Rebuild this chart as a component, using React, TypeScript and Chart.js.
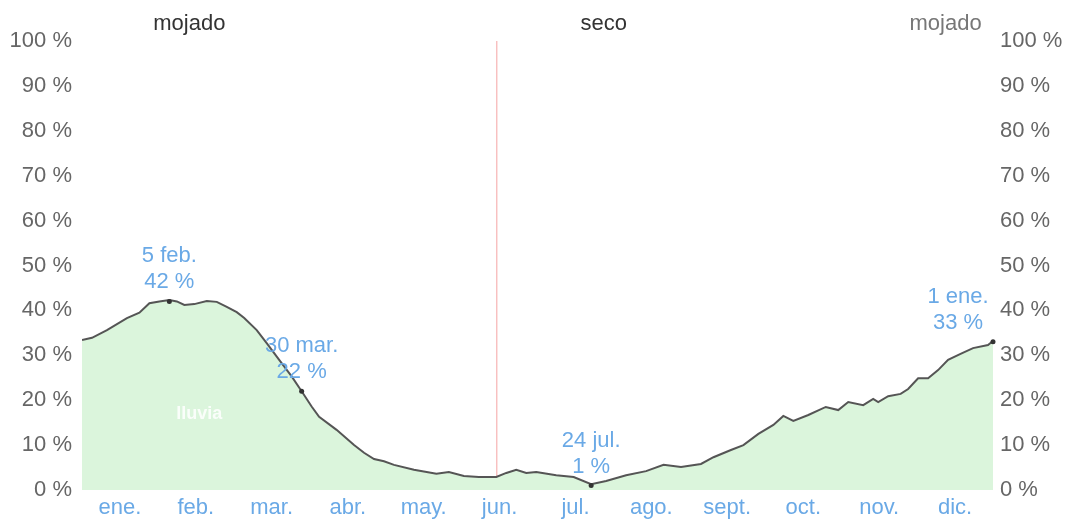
import React, { useEffect, useRef } from "react";
import { Chart, registerables } from "chart.js";

Chart.register(...registerables);

// day of year (0..365) and chance of rain (%)
const days = [0, 4, 10, 18, 23, 27, 31, 35, 38, 41, 45, 50, 54, 58, 62, 65, 70, 74, 79, 84, 88, 92, 95, 102, 109, 113, 117, 121, 125, 133, 142, 147, 153, 159, 166, 170, 174, 178, 182, 190, 197, 204, 210, 218, 226, 233, 240, 248, 253, 260, 265, 271, 277, 281, 285, 291, 298, 303, 307, 313, 317, 319, 323, 328, 331, 335, 339, 343, 347, 352, 357, 363, 365];
const values = [33.4, 33.9, 35.6, 38.3, 39.5, 41.6, 42.0, 42.3, 42.0, 41.2, 41.4, 42.1, 41.9, 40.8, 39.6, 38.3, 35.6, 32.7, 29, 25.3, 22, 18.6, 16.3, 13.4, 10, 8.3, 6.9, 6.4, 5.6, 4.5, 3.6, 4.0, 3.1, 2.9, 2.9, 3.8, 4.5, 3.8, 4.0, 3.3, 2.9, 1.3, 2.0, 3.3, 4.2, 5.6, 5.1, 5.8, 7.3, 8.9, 10, 12.5, 14.5, 16.5, 15.4, 16.7, 18.5, 17.8, 19.6, 18.9, 20.3, 19.6, 20.9, 21.4, 22.5, 24.9, 24.9, 26.7, 29, 30.3, 31.6, 32.3, 33.2];

const monthLabels = ["ene.", "feb.", "mar.", "abr.", "may.", "jun.", "jul.", "ago.", "sept.", "oct.", "nov.", "dic."];
const monthMidDays = [15.2, 45.6, 76.0, 106.5, 136.9, 167.3, 197.7, 228.1, 258.5, 289.0, 319.4, 349.8];
const yTicks = [0, 10, 20, 30, 40, 50, 60, 70, 80, 90, 100];

const annotDays = [35, 88, 204, 365];
const annotValues = [42, 22, 1, 33];
const annotDateLabels = ["5 feb.", "30 mar.", "24 jul.", "1 ene."];
const annotValueLabels = ["42 %", "22 %", "1 %", "33 %"];

const seasonLabels = ["mojado", "seco", "mojado"];
const seasonDays = [43, 209, 346];
const seasonColors = ["#333333", "#333333", "#777777"];
const dividerDay = 166;

const FONT = "Arial, 'Liberation Sans', sans-serif";

export default function App() {
  const ref = useRef<HTMLCanvasElement | null>(null);

  useEffect(() => {
    if (!ref.current) return;
    const overlay = {
      id: "overlay",
      beforeDatasetsDraw(chart: any) {
        const { ctx, chartArea, scales } = chart;
        const x = scales.x.getPixelForValue(dividerDay);
        ctx.save();
        ctx.strokeStyle = "#f5a3a3";
        ctx.lineWidth = 1;
        ctx.beginPath();
        ctx.moveTo(x + 0.5, chartArea.top);
        ctx.lineTo(x + 0.5, chartArea.bottom);
        ctx.stroke();
        ctx.restore();
      },
      afterDatasetsDraw(chart: any) {
        const { ctx, chartArea, scales } = chart;
        const xs = scales.x;
        const ys = scales.y;
        ctx.save();
        ctx.fillStyle = "rgba(255,255,255,0.85)";
        ctx.font = `bold 18px ${FONT}`;
        ctx.textAlign = "center";
        ctx.textBaseline = "middle";
        ctx.fillText("lluvia", xs.getPixelForValue(47), ys.getPixelForValue(17));
        ctx.font = `22px ${FONT}`;
        seasonLabels.forEach((t, i) => {
          ctx.fillStyle = seasonColors[i];
          ctx.fillText(t, xs.getPixelForValue(seasonDays[i]), chartArea.top - 17);
        });
        annotDays.forEach((d, i) => {
          const px = xs.getPixelForValue(d);
          const py = ys.getPixelForValue(annotValues[i]);
          ctx.fillStyle = "#333333";
          ctx.beginPath();
          ctx.arc(px, py, 2.5, 0, Math.PI * 2);
          ctx.fill();
          ctx.fillStyle = "#6aa9e6";
          ctx.font = `22px ${FONT}`;
          const tx = i === 3 ? px - 35 : px;
          ctx.fillText(annotDateLabels[i], tx, py - 45);
          ctx.fillText(annotValueLabels[i], tx, py - 19);
        });
        ctx.restore();
      },
    };

    const chart = new Chart(ref.current, {
      type: "line",
      data: {
        datasets: [
          {
            data: days.map((d, i) => ({ x: d, y: values[i] })),
            borderColor: "#555555",
            borderWidth: 2,
            backgroundColor: "#dbf5dc",
            fill: "origin",
            pointRadius: 0,
            tension: 0,
          },
        ],
      },
      options: {
        animation: false,
        responsive: false,
        maintainAspectRatio: false,
        layout: { padding: { top: 41, left: 0, right: 0, bottom: 0 } },
        plugins: { legend: { display: false }, tooltip: { enabled: false } },
        scales: {
          x: {
            type: "linear",
            min: 0,
            max: 365,
            grid: { display: false, drawTicks: false },
            border: { display: false },
            afterBuildTicks: (scale: any) => {
              scale.ticks = monthMidDays.map((v) => ({ value: v }));
            },
            afterFit: (scale: any) => {
              scale.height = 30;
            },
            ticks: {
              autoSkip: false,
              maxRotation: 0,
              padding: 5,
              color: "#6aa9e6",
              font: { size: 22, family: FONT },
              callback: (_v: any, i: number) => monthLabels[i],
            },
          },
          y: {
            position: "left",
            min: 0,
            max: 100,
            grid: { display: false, drawTicks: false },
            border: { display: false },
            afterBuildTicks: (scale: any) => {
              scale.ticks = yTicks.map((v) => ({ value: v }));
            },
            afterFit: (scale: any) => {
              scale.width = 82;
            },
            ticks: {
              padding: 10,
              color: "#666666",
              font: { size: 22, family: FONT },
              callback: (v: any) => `${v} %`,
            },
          },
          y2: {
            position: "right",
            min: 0,
            max: 100,
            grid: { display: false, drawTicks: false },
            border: { display: false },
            afterBuildTicks: (scale: any) => {
              scale.ticks = yTicks.map((v) => ({ value: v }));
            },
            afterFit: (scale: any) => {
              scale.width = 75;
            },
            ticks: {
              padding: 7,
              color: "#666666",
              font: { size: 22, family: FONT },
              callback: (v: any) => `${v} %`,
            },
          },
        },
      },
      plugins: [overlay],
    });
    return () => chart.destroy();
  }, []);

  return (
    <div style={{ position: "fixed", left: 0, top: 0, width: 1068, height: 520, background: "#ffffff" }}>
      <canvas ref={ref} width={1068} height={520} style={{ display: "block", width: 1068, height: 520 }} />
    </div>
  );
}
